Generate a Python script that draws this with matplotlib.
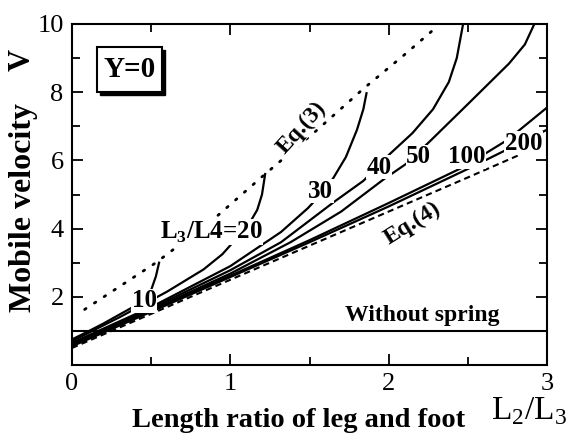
import matplotlib
matplotlib.use("Agg")
import matplotlib.pyplot as plt
from matplotlib.patches import Rectangle
from matplotlib.ticker import MultipleLocator

plt.rcParams["font.family"] = ["Liberation Serif", "DejaVu Serif"]
plt.rcParams["mathtext.fontset"] = "custom"
plt.rcParams["mathtext.rm"] = "Liberation Serif"
plt.rcParams["mathtext.bf"] = "Liberation Serif:bold"

# Eq.(3) dotted and Eq.(4) dashed limits
eq3_x = [0.08, 0.3, 0.53, 0.9, 1.22, 1.55, 1.84, 2.1, 2.3]
eq3_v = [1.63, 2.3, 3.0, 4.3, 5.6, 6.9, 8.1, 9.1, 9.9]
eq4_x = [0, 0.5, 1, 1.5, 2, 2.5, 2.82]
eq4_v = [0.5, 1.5, 2.5, 3.5, 4.5, 5.5, 6.15]

# solid curves, one per L3/L4 ratio
r10_x = [0, 0.1, 0.2, 0.3, 0.37, 0.45, 0.5, 0.53, 0.55]
r10_v = [0.75, 0.98, 1.22, 1.48, 1.66, 1.9, 2.2, 2.6, 3.0]
r20_x = [0, 0.3, 0.6, 0.83, 0.95, 1.05, 1.12, 1.17, 1.2, 1.22]
r20_v = [0.7, 1.4, 2.15, 2.8, 3.25, 3.77, 4.15, 4.55, 5.0, 5.6]
r30_x = [0, 0.5, 1, 1.32, 1.49, 1.57, 1.65, 1.73, 1.8, 1.84, 1.86]
r30_v = [0.65, 1.7, 2.9, 3.9, 4.6, 5.0, 5.48, 6.1, 6.9, 7.5, 7.97]
r40_x = [0, 0.5, 1, 1.32, 1.66, 1.84, 2.01, 2.15, 2.28, 2.38, 2.43, 2.47]
r40_v = [0.62, 1.66, 2.78, 3.6, 4.8, 5.4, 6.2, 6.8, 7.5, 8.3, 9.0, 10]
r50_x = [0, 0.5, 1, 1.38, 1.7, 1.97, 2.12, 2.28, 2.5, 2.76, 2.86, 2.92]
r50_v = [0.6, 1.62, 2.68, 3.6, 4.5, 5.45, 5.93, 6.65, 7.65, 8.84, 9.4, 10]
r100_x = [0, 0.5, 1, 1.5, 2, 2.47, 2.75, 3]
r100_v = [0.58, 1.6, 2.62, 3.66, 4.75, 5.8, 6.6, 7.55]
r200_x = [0, 0.5, 1, 1.5, 2, 2.5, 3]
r200_v = [0.55, 1.56, 2.58, 3.6, 4.65, 5.75, 6.9]

without_spring_v = 1.0

# curve labels: text, x, V
label_text = ["10", "L$_{\\mathbf{3}}$/L4=20", "30", "40", "50", "100", "200"]
label_x = [0.455, 0.88, 1.57, 1.94, 2.19, 2.49, 2.85]
label_v = [1.89, 3.9, 5.1, 5.8, 6.1, 6.1, 6.5]

fig = plt.figure(figsize=(5.74, 4.41), dpi=100)
ax = fig.add_axes([0.1254, 0.1723, 0.8276, 0.7733])

curves = [(r10_x, r10_v), (r20_x, r20_v), (r30_x, r30_v), (r40_x, r40_v),
          (r50_x, r50_v), (r100_x, r100_v), (r200_x, r200_v)]
for cx, cv in curves:
    ax.plot(cx, cv, color="black", lw=1.6, zorder=2)

ax.plot(eq3_x, eq3_v, color="black", lw=2.0, linestyle=(0, (0.6, 3.6)),
        dash_capstyle="round", zorder=2)
ax.plot(eq4_x, eq4_v, color="black", lw=1.5, linestyle=(0, (3, 2)), zorder=2)
ax.axhline(without_spring_v, color="black", lw=1.5, zorder=2)

for t, lx, lv in zip(label_text, label_x, label_v):
    ax.text(lx, lv, t, fontsize=18, fontweight="bold", ha="center", va="center",
            zorder=4, bbox=dict(facecolor="white", edgecolor="none", pad=0.3))

ax.text(1.45, 6.95, "Eq.(3)", fontsize=17, fontweight="bold", rotation=48,
        ha="center", va="center", zorder=4,
        bbox=dict(facecolor="white", edgecolor="none", pad=0.3))
ax.text(2.15, 4.15, "Eq.(4)", fontsize=17, fontweight="bold", rotation=32,
        ha="center", va="center", zorder=4,
        bbox=dict(facecolor="white", edgecolor="none", pad=0.3))
ax.text(2.21, 1.45, "Without spring", fontsize=17, fontweight="bold",
        ha="center", va="center", zorder=4)

# boxed Y=0 with drop shadow
ax.add_patch(Rectangle((0.059, 0.792), 0.136, 0.132, transform=ax.transAxes,
                       facecolor="black", edgecolor="black", zorder=5))
ax.add_patch(Rectangle((0.053, 0.800), 0.136, 0.132, transform=ax.transAxes,
                       facecolor="white", edgecolor="black", lw=1.5, zorder=6))
ax.text(0.121, 0.866, "Y=0", transform=ax.transAxes, fontsize=21,
        fontweight="bold", ha="center", va="center", zorder=7)

ax.set_xlim(0, 3)
ax.set_ylim(0, 10)
ax.xaxis.set_major_locator(MultipleLocator(1))
ax.xaxis.set_minor_locator(MultipleLocator(0.5))
ax.set_yticks([2, 4, 6, 8, 10])
ax.yaxis.set_minor_locator(MultipleLocator(1))
ax.tick_params(which="both", direction="in", top=True, right=True, width=1.3)
ax.tick_params(which="major", length=8, labelsize=19, pad=6)
ax.tick_params(which="minor", length=6)
for s in ax.spines.values():
    s.set_linewidth(1.5)

fig.text(24 / 574, 1 - 207 / 441, "Mobile velocity", fontsize=23,
         fontweight="bold", rotation=90, ha="center", va="center")
fig.text(0.038, 0.865, "V", fontsize=22, fontweight="bold", rotation=90,
         ha="center", va="center")
fig.text(0.52, 0.047, "Length ratio of leg and foot", fontsize=20.5,
         fontweight="bold", ha="center", va="center")
fig.text(0.922, 0.068, "L$_2$/L$_3$", fontsize=24, ha="center", va="center")

fig.savefig("out.png", dpi=100)
